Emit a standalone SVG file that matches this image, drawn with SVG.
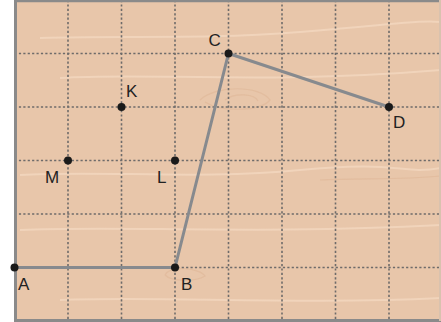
<svg xmlns="http://www.w3.org/2000/svg" width="441" height="322" viewBox="0 0 441 322">
<style>
.grid{stroke:#6e6b6a;stroke-width:1.6;stroke-dasharray:2.2,2.2;fill:none}
.seg{stroke:#878a8e;stroke-width:3;fill:none;stroke-linecap:round}
.grain{stroke:#f2d7bf;stroke-width:2;fill:none;opacity:0.8}
.grain2{stroke:#ddb393;stroke-width:1.2;fill:none;opacity:0.5}
.pt{fill:#1a1a1a}
.lbl{font-family:"Liberation Sans",Arial,sans-serif;font-size:17px;fill:#222}
</style>
<rect x="0" y="0" width="441" height="322" fill="#ffffff"/>
<g id="board">
<rect x="14.5" y="0" width="427" height="321" fill="#e8c6aa"/>
<path class="grain" d="M40 38 C120 35 200 40 300 32 S420 20 441 22"/>
<path class="grain" d="M60 78 C150 72 260 85 441 70"/>
<path class="grain2" d="M200 100 C215 85 260 85 270 100 C260 112 220 112 205 102"/>
<path class="grain2" d="M225 100 C235 92 255 94 258 101"/>
<path class="grain" d="M20 175 C100 170 200 180 300 170 S400 175 441 168"/>
<path class="grain2" d="M320 180 C360 178 400 180 441 176"/>
<path class="grain" d="M20 230 C120 225 250 235 441 225"/>
<path class="grain2" d="M165 275 C170 265 200 268 205 276 C195 282 172 282 165 275"/>
<path class="grain" d="M60 300 C160 296 300 305 441 298"/>
</g>
<g id="grid">
<path class="grid" d="M68 0V321M121.5 0V321M175 0V321M228.5 0V321M282 0V321M335.5 0V321M389 0V321"/>
<path class="grid" d="M14.5 53.5H441M14.5 107H441M14.5 160.5H441M14.5 214H441M14.5 267.5H441"/>
</g>
<g id="frame">
<path d="M15.5 0V320.5H441" stroke="#8a8a8a" stroke-width="3" fill="none"/>
<path d="M14.5 1H441" stroke="#8a8a8a" stroke-width="2.5" fill="none"/>
<path d="M440 0V321" stroke="#d9c2ae" stroke-width="2" fill="none"/>
</g>
<g id="connectors">
<path class="seg" d="M14.5 267.5H175L228.5 53.5L389 107"/>
</g>
<g id="A"><circle class="pt" cx="14.5" cy="267.5" r="4"/><text class="lbl" x="18" y="290">A</text></g>
<g id="B"><circle class="pt" cx="175" cy="267.5" r="4"/><text class="lbl" x="181" y="290">B</text></g>
<g id="C"><circle class="pt" cx="228.5" cy="53.5" r="4"/><text class="lbl" x="208.5" y="46">C</text></g>
<g id="D"><circle class="pt" cx="389" cy="107" r="4"/><text class="lbl" x="393" y="128">D</text></g>
<g id="K"><circle class="pt" cx="121.5" cy="107" r="4"/><text class="lbl" x="126" y="97">K</text></g>
<g id="L"><circle class="pt" cx="175" cy="160.5" r="4"/><text class="lbl" x="157" y="183">L</text></g>
<g id="M"><circle class="pt" cx="68" cy="160.5" r="4"/><text class="lbl" x="45" y="183">M</text></g>
</svg>
